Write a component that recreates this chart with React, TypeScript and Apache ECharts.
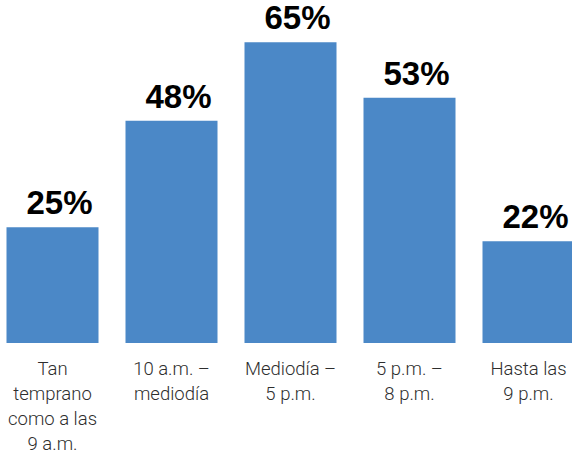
import React, { useEffect, useRef } from "react";
import * as echarts from "echarts";

const categories = [
  "Tan\ntemprano\ncomo a las\n9 a.m.",
  "10 a.m. –\nmediodía",
  "Mediodía –\n5 p.m.",
  "5 p.m. –\n8 p.m.",
  "Hasta las\n9 p.m.",
];
const values = [25, 48, 65, 53, 22];

const LINES = 4;
const padLines = (s: string) => {
  const parts = s.split("\n");
  while (parts.length < LINES) parts.push("\u00a0");
  return parts.join("\n");
};

export default function App() {
  const ref = useRef<HTMLDivElement>(null);
  useEffect(() => {
    document.body.style.margin = "0";
    document.body.style.overflow = "hidden";
    const chart = echarts.init(ref.current!, null, { renderer: "svg" });
    chart.setOption({
      animation: false,
      backgroundColor: "#ffffff",
      grid: {
        left: 0,
        right: 0,
        top: 19,
        bottom: 114,
        containLabel: false,
        outerBoundsMode: "none",
      },
      xAxis: {
        type: "category",
        data: categories,
        axisLine: { show: false },
        axisTick: { show: false },
        axisLabel: {
          interval: 0,
          margin: 13,
          verticalAlign: "top",
          hideOverlap: false,
          formatter: (v: string) => padLines(v),
          fontFamily: "Roboto",
          fontWeight: 300,
          fontSize: 18.5,
          lineHeight: 25,
          color: "#2e2e2e",
        },
      },
      yAxis: {
        type: "value",
        min: 0,
        max: 70,
        show: false,
        splitLine: { show: false },
      },
      series: [
        {
          type: "bar",
          data: values,
          barWidth: 92,
          itemStyle: { color: "#4B88C7" },
          label: {
            show: true,
            position: "top",
            distance: 8,
            offset: [7, 0],
            formatter: "{c}%",
            fontFamily: "Liberation Sans",
            fontWeight: 900,
            fontSize: 33,
            color: "#000000",
          },
        },
      ],
    });
    return () => chart.dispose();
  }, []);
  return (
    <div style={{ width: 572, height: 457, overflow: "hidden", position: "relative" }}>
      <div
        ref={ref}
        style={{ position: "absolute", left: -7.5, top: 0, width: 595, height: 457 }}
      />
    </div>
  );
}
